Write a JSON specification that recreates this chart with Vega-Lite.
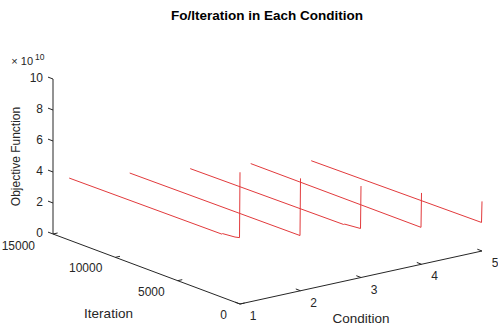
{
  "$schema": "https://vega.github.io/schema/vega-lite/v6.json",
  "width": 498,
  "height": 324,
  "autosize": "none",
  "padding": 0,
  "background": "white",
  "config": {"view": {"stroke": null}, "text": {"font": "Liberation Sans"}},
  "title": {"text": "Fo/Iteration in Each Condition", "font": "Liberation Sans", "fontSize": 13.5, "fontWeight": "bold", "color": "#000000", "offset": -22, "dx": 18},
  "data": {"values": [
    {"kind": "fo", "condition": 1, "iteration": 0, "fo": 8.5e10},
    {"kind": "fo", "condition": 1, "iteration": 40, "fo": 4.27e10},
    {"kind": "fo", "condition": 1, "iteration": 400, "fo": 4.2e10},
    {"kind": "fo", "condition": 1, "iteration": 1400, "fo": 4.12e10},
    {"kind": "fo", "condition": 1, "iteration": 1450, "fo": 4.07e10},
    {"kind": "fo", "condition": 1, "iteration": 13700, "fo": 4.0e10},
    {"kind": "fo", "condition": 2, "iteration": 0, "fo": 7.25e10},
    {"kind": "fo", "condition": 2, "iteration": 40, "fo": 3.55e10},
    {"kind": "fo", "condition": 2, "iteration": 13700, "fo": 3.47e10},
    {"kind": "fo", "condition": 3, "iteration": 0, "fo": 5.9e10},
    {"kind": "fo", "condition": 3, "iteration": 40, "fo": 3.15e10},
    {"kind": "fo", "condition": 3, "iteration": 1300, "fo": 3.05e10},
    {"kind": "fo", "condition": 3, "iteration": 1400, "fo": 3.0e10},
    {"kind": "fo", "condition": 3, "iteration": 13700, "fo": 2.9e10},
    {"kind": "fo", "condition": 4, "iteration": 0, "fo": 4.6e10},
    {"kind": "fo", "condition": 4, "iteration": 40, "fo": 2.37e10},
    {"kind": "fo", "condition": 4, "iteration": 13700, "fo": 2.37e10},
    {"kind": "fo", "condition": 5, "iteration": 0, "fo": 3.2e10},
    {"kind": "fo", "condition": 5, "iteration": 40, "fo": 1.83e10},
    {"kind": "fo", "condition": 5, "iteration": 13700, "fo": 1.7e10},
    {"kind": "axis", "axis": "z", "condition": 1, "iteration": 15000, "fo": 0},
    {"kind": "axis", "axis": "z", "condition": 1, "iteration": 15000, "fo": 1e11},
    {"kind": "axis", "axis": "iteration", "condition": 1, "iteration": 0, "fo": 0},
    {"kind": "axis", "axis": "iteration", "condition": 1, "iteration": 15000, "fo": 0},
    {"kind": "axis", "axis": "condition", "condition": 1, "iteration": 0, "fo": 0},
    {"kind": "axis", "axis": "condition", "condition": 5, "iteration": 0, "fo": 0},
    {"kind": "ztick", "condition": 1, "iteration": 15000, "fo": 0, "label": "0"},
    {"kind": "ztick", "condition": 1, "iteration": 15000, "fo": 2e10, "label": "2"},
    {"kind": "ztick", "condition": 1, "iteration": 15000, "fo": 4e10, "label": "4"},
    {"kind": "ztick", "condition": 1, "iteration": 15000, "fo": 6e10, "label": "6"},
    {"kind": "ztick", "condition": 1, "iteration": 15000, "fo": 8e10, "label": "8"},
    {"kind": "ztick", "condition": 1, "iteration": 15000, "fo": 1e11, "label": "10"},
    {"kind": "ittick", "condition": 1, "iteration": 0, "fo": 0, "label": "0"},
    {"kind": "ittick", "condition": 1, "iteration": 5000, "fo": 0, "label": "5000"},
    {"kind": "ittick", "condition": 1, "iteration": 10000, "fo": 0, "label": "10000"},
    {"kind": "ittick", "condition": 1, "iteration": 15000, "fo": 0, "label": "15000"},
    {"kind": "ctick", "condition": 1, "iteration": 0, "fo": 0, "label": "1"},
    {"kind": "ctick", "condition": 2, "iteration": 0, "fo": 0, "label": "2"},
    {"kind": "ctick", "condition": 3, "iteration": 0, "fo": 0, "label": "3"},
    {"kind": "ctick", "condition": 4, "iteration": 0, "fo": 0, "label": "4"},
    {"kind": "ctick", "condition": 5, "iteration": 0, "fo": 0, "label": "5"},
    {"kind": "ztitle", "condition": 1, "iteration": 15000, "fo": 5e10, "label": "Objective Function"},
    {"kind": "ittitle", "condition": 1, "iteration": 7500, "fo": 0, "label": "Iteration"},
    {"kind": "ctitle", "condition": 3, "iteration": 0, "fo": 0, "label": "Condition"},
    {"kind": "exp", "condition": 1, "iteration": 15000, "fo": 1e11, "label": "× 10", "sup": "10"}
  ]},
  "transform": [
    {"calculate": "240 + (datum.condition - 1) * 60.5 - datum.iteration * 0.012466", "as": "px"},
    {"calculate": "304 - (datum.condition - 1) * 13.25 - datum.iteration * 0.0046667 - datum.fo / 1e10 * 15.5", "as": "py"}
  ],
  "encoding": {
    "x": {"field": "px", "type": "quantitative", "scale": {"domain": [0, 498], "nice": false, "zero": false}, "axis": null},
    "y": {"field": "py", "type": "quantitative", "scale": {"domain": [0, 324], "nice": false, "zero": false, "reverse": true}, "axis": null}
  },
  "layer": [
    {
      "transform": [{"filter": "datum.kind === 'axis'"}],
      "mark": {"type": "line", "color": "#262626", "strokeWidth": 1},
      "encoding": {"detail": {"field": "axis"}, "order": {"field": "fo", "type": "quantitative"}}
    },
    {
      "transform": [{"filter": "datum.kind === 'ztick'"}],
      "mark": {"type": "rule", "color": "#262626", "strokeWidth": 1, "x2Offset": -5, "y2Offset": -1.9},
      "encoding": {"x2": {"field": "px"}, "y2": {"field": "py"}}
    },
    {
      "transform": [{"filter": "datum.kind === 'ittick'"}],
      "mark": {"type": "rule", "color": "#262626", "strokeWidth": 1, "x2Offset": 4.6, "y2Offset": -1.0},
      "encoding": {"x2": {"field": "px"}, "y2": {"field": "py"}}
    },
    {
      "transform": [{"filter": "datum.kind === 'ctick'"}],
      "mark": {"type": "rule", "color": "#262626", "strokeWidth": 1, "x2Offset": -4.7, "y2Offset": -1.8},
      "encoding": {"x2": {"field": "px"}, "y2": {"field": "py"}}
    },
    {
      "transform": [{"filter": "datum.kind === 'fo'"}],
      "mark": {"type": "line", "color": "#e23a3c", "strokeWidth": 1},
      "encoding": {"detail": {"field": "condition"}, "order": {"field": "iteration", "type": "quantitative"}}
    },
    {
      "transform": [{"filter": "datum.kind === 'ztick'"}],
      "mark": {"type": "text", "align": "right", "baseline": "middle", "dx": -10, "dy": -1, "fontSize": 12, "color": "#262626"},
      "encoding": {"text": {"field": "label"}}
    },
    {
      "transform": [{"filter": "datum.kind === 'ittick' && datum.iteration < 15000"}],
      "mark": {"type": "text", "align": "right", "baseline": "middle", "dx": -13, "dy": 11, "fontSize": 12, "color": "#262626"},
      "encoding": {"text": {"field": "label"}}
    },
    {
      "transform": [{"filter": "datum.kind === 'ittick' && datum.iteration === 15000"}],
      "mark": {"type": "text", "align": "right", "baseline": "middle", "dx": -18, "dy": 12, "fontSize": 12, "color": "#262626"},
      "encoding": {"text": {"field": "label"}}
    },
    {
      "transform": [{"filter": "datum.kind === 'ctick'"}],
      "mark": {"type": "text", "align": "center", "baseline": "middle", "dx": 13, "dy": 12, "fontSize": 12, "color": "#262626"},
      "encoding": {"text": {"field": "label"}}
    },
    {
      "transform": [{"filter": "datum.kind === 'ztitle'"}],
      "mark": {"type": "text", "align": "center", "baseline": "middle", "angle": 270, "dy": -37, "fontSize": 12, "color": "#262626"},
      "encoding": {"text": {"field": "label"}}
    },
    {
      "transform": [{"filter": "datum.kind === 'ittitle'"}],
      "mark": {"type": "text", "align": "center", "baseline": "middle", "dx": -38, "dy": 45, "fontSize": 13.5, "color": "#262626"},
      "encoding": {"text": {"field": "label"}}
    },
    {
      "transform": [{"filter": "datum.kind === 'ctitle'"}],
      "mark": {"type": "text", "align": "center", "baseline": "middle", "dx": 0, "dy": 41, "fontSize": 13.5, "color": "#262626"},
      "encoding": {"text": {"field": "label"}}
    },
    {
      "transform": [{"filter": "datum.kind === 'exp'"}],
      "mark": {"type": "text", "align": "right", "baseline": "middle", "dx": -20, "dy": -17, "fontSize": 11, "color": "#262626"},
      "encoding": {"text": {"field": "label"}}
    },
    {
      "transform": [{"filter": "datum.kind === 'exp'"}],
      "mark": {"type": "text", "align": "left", "baseline": "middle", "dx": -18, "dy": -22, "fontSize": 8.5, "color": "#262626"},
      "encoding": {"text": {"field": "sup"}}
    }
  ]
}
